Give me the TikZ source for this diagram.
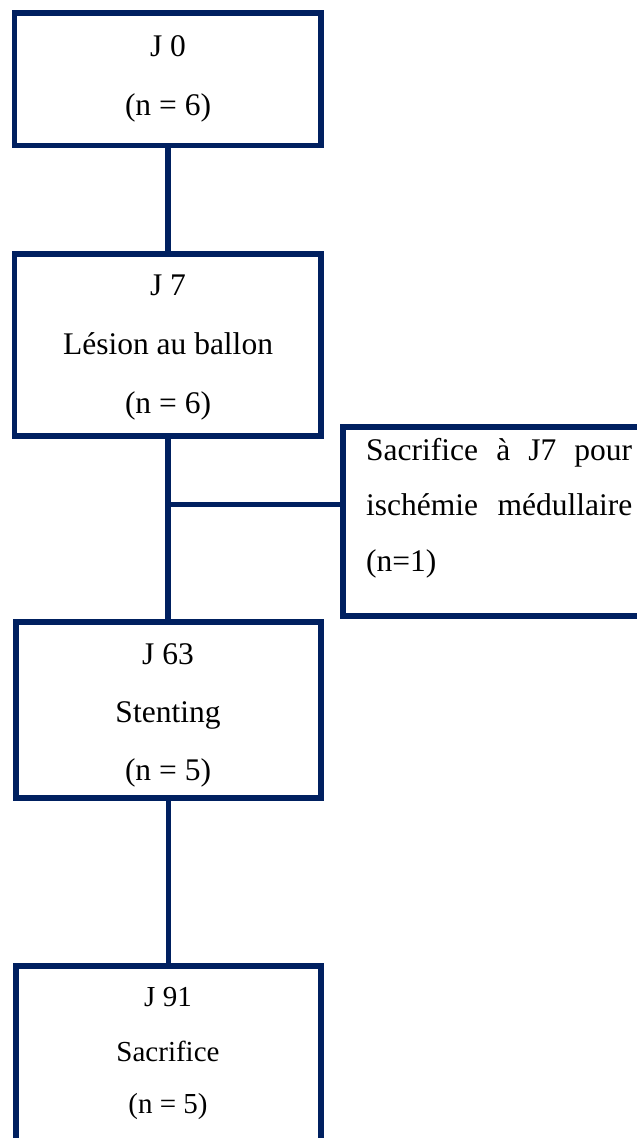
\documentclass[tikz,border=0pt]{standalone}
\usepackage{fontspec}
\setmainfont{Liberation Serif}
\definecolor{navy}{RGB}{0,32,96}
\begin{document}
\begin{tikzpicture}[x=1pt,y=-1pt,
  box/.style={draw=navy,line width=5.5pt,inner sep=0pt,outer sep=0pt,rectangle},
  lbl/.style={anchor=base,inner sep=0pt,text=black,font=\fontsize{31.5}{36}\selectfont},
  lblsmall/.style={anchor=base,inner sep=0pt,text=black,font=\fontsize{29}{34}\selectfont},
  lblside/.style={anchor=base west,inner sep=0pt,text=black,font=\fontsize{31.5}{36}\selectfont},
  conn/.style={draw=navy,line width=5.5pt}]
\useasboundingbox (0,0) rectangle (637,1138);
\clip (0,0) rectangle (637,1138);
% boxes
\node[box,minimum width=306.5pt,minimum height=132.5pt] (b1) at (167.75,79.25) {};
\node[box,minimum width=306.5pt,minimum height=182pt] (b2) at (167.75,345) {};
\node[box,minimum width=322pt,minimum height=189pt] (side) at (504,521.5) {};
\node[box,minimum width=305pt,minimum height=176pt] (b3) at (168.5,710) {};
\node[box,minimum width=305pt,minimum height=204pt] (b4) at (168.5,1068) {};
% texts
\node[lbl] (t1a) at (168,56) {J 0};
\node[lbl] (t1b) at (168,115) {(n = 6)};
\node[lbl] (t2a) at (168,295.5) {J 7};
\node[lbl] (t2b) at (168,354.5) {Lésion au ballon};
\node[lbl] (t2c) at (168,413.3) {(n = 6)};
\node[lbl] (t3a) at (168,664) {J 63};
\node[lbl] (t3b) at (168,722.5) {Stenting};
\node[lbl] (t3c) at (168,780) {(n = 5)};
\node[lblsmall] (t4a) at (168,1006.7) {J 91};
\node[lblsmall] (t4b) at (168,1061.7) {Sacrifice};
\node[lblsmall] (t4c) at (168,1113) {(n = 5)};
\node[lblside] (s1) at (366,460) {\makebox[266pt][s]{Sacrifice\hfill à\hfill J7\hfill pour}};
\node[lblside] (s2) at (366,515.5) {\makebox[266pt][s]{ischémie\hfill médullaire}};
\node[lblside] (s3) at (366,571.7) {(n=1)};
% connectors
\draw[conn] (b1.south) -- (b2.north);
\coordinate (top2) at ([xshift=0.25pt]b2.south);
\coordinate (br) at (top2 |- 0,504.5);
\draw[conn] (top2) -- (top2 |- b3.north);
\draw[conn] (br) -- (br -| side.west);
\draw[conn] (b3.south) -- (b3.south |- b4.north);
\end{tikzpicture}
\end{document}
